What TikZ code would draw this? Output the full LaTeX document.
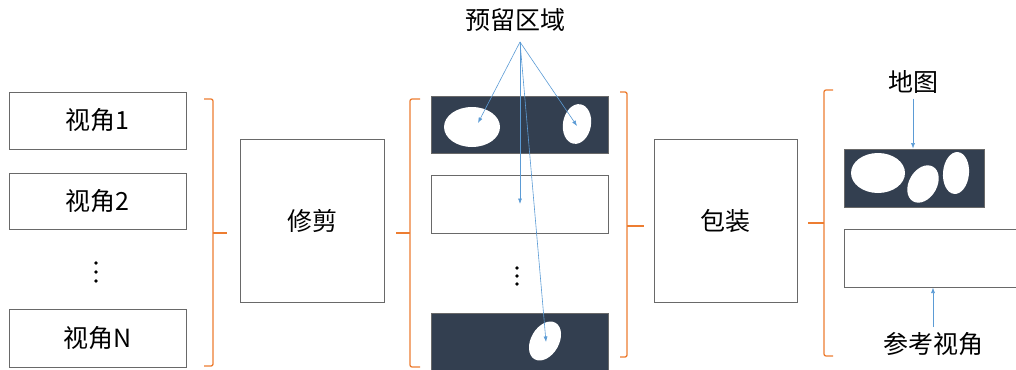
\documentclass[tikz,border=0pt]{standalone}
\usepackage{fontspec}
\setmainfont{Noto Sans CJK SC}
\usetikzlibrary{arrows.meta}

\definecolor{bracecol}{RGB}{237,125,49}
\definecolor{mapcol}{RGB}{51,63,80}
\definecolor{hintcol}{RGB}{91,155,213}
\definecolor{boxcol}{RGB}{105,105,105}

\tikzset{
  box/.style={draw=boxcol, line width=1pt, fill=white, inner sep=0pt},
  mapbox/.style={draw=boxcol, line width=0.8pt, fill=mapcol, inner sep=0pt},
  hole/.style={fill=white},
  brace/.style={draw=bracecol, line width=1.3pt, rounded corners=2pt},
  hint/.style={draw=hintcol, line width=0.6pt, -{Latex[length=5.5pt,width=4pt]}},
  tag/.style={font=\fontsize{25}{29}\selectfont, inner sep=1pt},
  dot/.style={fill=black}
}

\begin{document}
\begin{tikzpicture}[x=1pt,y=-1pt]
  \useasboundingbox (0,0) rectangle (1016,369);
  % helper grid
  % \draw[help lines,step=20] (0,0) grid (1016,369);

  % views
  \node[box,tag,minimum width=177,minimum height=57] (v1) at (97.5,120.5) {视角1};
  \node[box,tag,minimum width=177,minimum height=56] (v2) at (97.5,201)   {视角2};
  \node[box,tag,minimum width=177,minimum height=58] (vn) at (97.5,338)   {视角N};
  \fill[dot] (96,263) circle (1.8) (96,272) circle (1.8) (96,281) circle (1.8);

  % first brace
  \draw[brace] (204,99) -- (213,99) -- (213,366) -- (204,366);
  \draw[brace] (213,233) -- (227,233);

  % crop
  \node[box,tag,minimum width=144,minimum height=163] (crop) at (312,220.5) {修剪};

  % second brace
  \draw[brace] (420,99) -- (410,99) -- (410,367) -- (420,367);
  \draw[brace] (410,233) -- (396,233);

  % cropped views
  \node[mapbox,minimum width=177,minimum height=57] (c1) at (519.5,124.5) {};
  \node[box,minimum width=177,minimum height=58]    (c2) at (519.5,204) {};
  \node[mapbox,minimum width=177,minimum height=72] (cn) at (519.5,349) {};
  \fill[hole] (472,127) ellipse [x radius=28pt, y radius=20pt];
  \fill[hole, rotate around={80:(577,124)}] (577,124) ellipse [x radius=20pt, y radius=14pt];
  \fill[hole, rotate around={60:(545,341)}] (545,341) ellipse [x radius=21pt, y radius=14pt];
  \fill[dot] (517,268) circle (1.8) (517,276) circle (1.8) (517,284) circle (1.8);

  % reserved area
  \node[tag] (rsv) at (515,20) {预留区域};
  \coordinate (fan) at (520,42);
  \coordinate (h1) at (478,123);
  \coordinate (h2) at (577,126);
  \coordinate (h3) at (520,204);
  \coordinate (h4) at (546,342);
  \foreach \h in {h1,h2,h3,h4}
    \draw[hint] (fan) -- (\h);

  % third brace
  \draw[brace] (620,92) -- (627,92) -- (627,357) -- (620,357);
  \draw[brace] (627,226) -- (644,226);

  % pack
  \node[box,tag,minimum width=143,minimum height=163] (pack) at (725.5,220.5) {包装};

  % fourth brace
  \draw[brace] (833,90) -- (824,90) -- (824,356) -- (833,356);
  \draw[brace] (824,223) -- (808,223);

  % output
  \node[mapbox,minimum width=140,minimum height=58] (map) at (914,178) {};
  \fill[hole] (878,173) ellipse [x radius=27pt, y radius=20pt];
  \fill[hole, rotate around={60:(923,184)}] (923,184) ellipse [x radius=20pt, y radius=14pt];
  \fill[hole, rotate around={85:(956,173)}] (956,173) ellipse [x radius=21pt, y radius=13pt];
  \node[box,minimum width=190,minimum height=58] (ref) at (939,258) {};

  \node[tag] (maplbl) at (913,82) {地图};
  \node[tag] (reflbl) at (933,344) {参考视角};
  \draw[hint] ([yshift=-4pt]maplbl.south) -- (maplbl.south |- map.north);
  \draw[hint] ([yshift=4pt]reflbl.north) -- (reflbl.north |- ref.south);
\end{tikzpicture}
\end{document}
